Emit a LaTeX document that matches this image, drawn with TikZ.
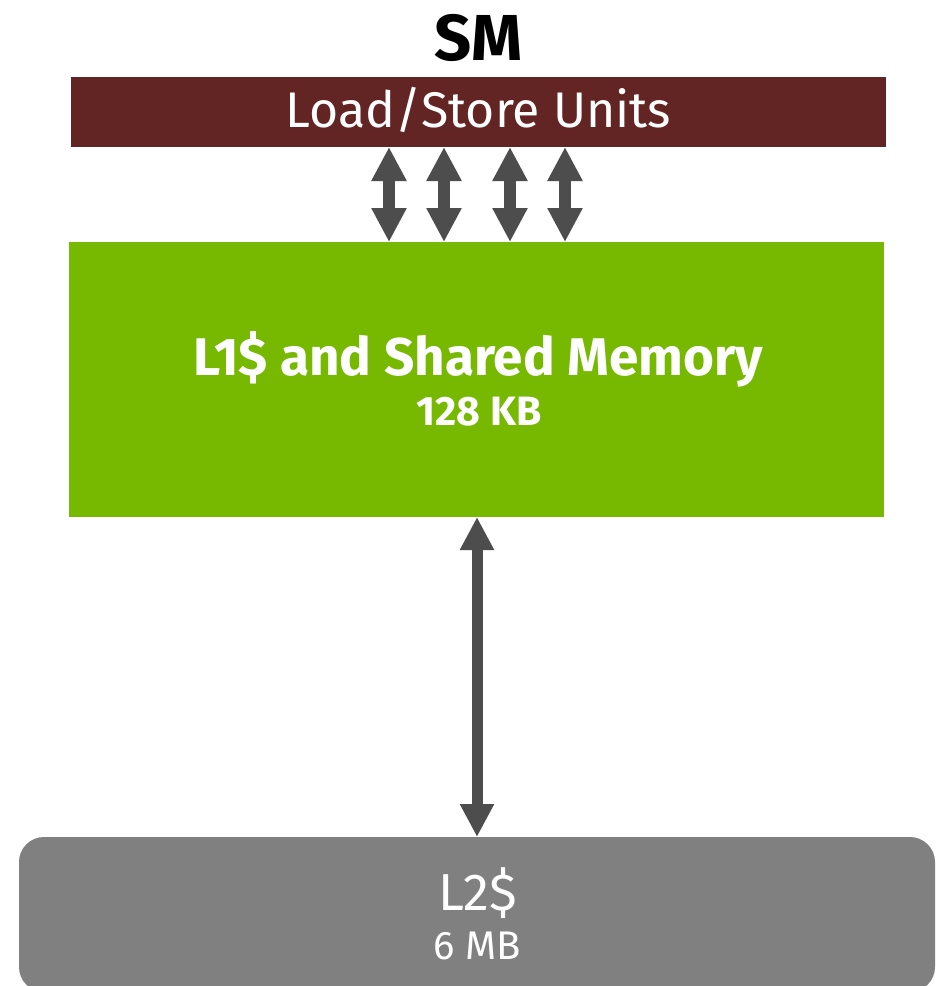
\documentclass[tikz,border=0pt]{standalone}
\usepackage{fontspec}
\setmainfont{Fira Sans}
\usetikzlibrary{arrows.meta}
\definecolor{lsred}{HTML}{632523}
\definecolor{nvgreen}{HTML}{76B900}
\definecolor{l2gray}{HTML}{808080}
\definecolor{arrgray}{HTML}{4D4D4D}
\tikzset{
  box/.style={draw=none, inner sep=0pt, outer sep=0pt, minimum width=#1},
  lbl/.style={text=white, anchor=base, inner sep=0pt},
  smallarr/.style={draw=arrgray, line width=12pt,
    {Triangle[length=34pt,width=33pt]}-{Triangle[length=34pt,width=33pt]}},
  bigarr/.style={draw=arrgray, line width=11pt,
    {Triangle[length=33pt,width=32pt]}-{Triangle[length=33pt,width=32pt]}}
}
\begin{document}
\begin{tikzpicture}[x=1pt,y=-1pt]
\clip (0,0) rectangle (937,986);
\useasboundingbox (0,0) rectangle (937,986);
\fill[white] (0,0) rectangle (937,986);
% boxes
\node[box=815pt, minimum height=70pt, fill=lsred] (ls) at (478.5,112) {};
\node[box=815pt, minimum height=275pt, fill=nvgreen] (l1) at (476.5,379.5) {};
\node[box=916pt, minimum height=155pt, fill=l2gray, rounded corners=25pt] (l2) at (477,914.5) {};
% texts
\node[anchor=base, inner sep=0pt, font=\fontsize{65}{70}\selectfont\bfseries] (sm) at (478.5,60) {SM};
\node[lbl, font=\fontsize{50}{60}\selectfont] (lst) at (478.5,127) {Load/Store Units};
\node[lbl, font=\fontsize{53}{60}\selectfont\bfseries] (l1t) at (478,375) {L1\$ and Shared Memory};
\node[lbl, font=\fontsize{41}{48}\selectfont\bfseries] (l1s) at (479,425) {128 KB};
\node[lbl, font=\fontsize{52}{60}\selectfont] (l2t) at (478,910) {L2\$};
\node[lbl, font=\fontsize{40}{48}\selectfont] (l2s) at (477,959) {6 MB};
% arrows
\coordinate (a1) at (389,0);
\coordinate (a2) at (444,0);
\coordinate (a3) at (510,0);
\coordinate (a4) at (565,0);
\foreach \a in {a1,a2,a3,a4}
  \draw[smallarr] (ls.south -| \a) -- (l1.north -| \a);
\draw[bigarr] (l1.south -| l2.north) -- (l2.north);
\end{tikzpicture}
\end{document}
